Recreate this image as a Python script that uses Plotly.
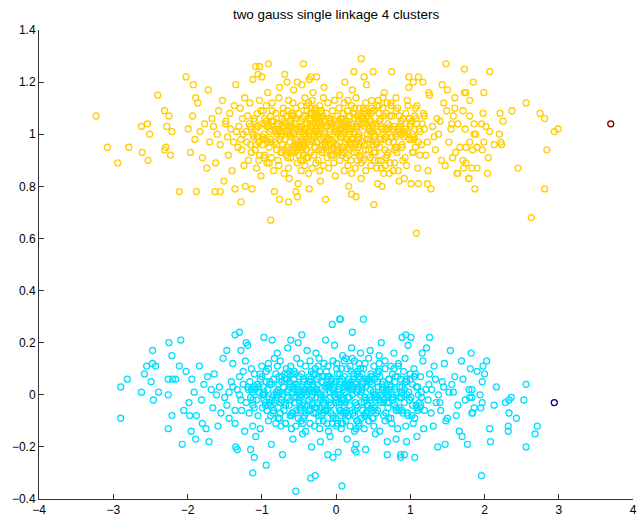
import plotly.graph_objects as go

# ---------------- data ----------------
title_text = "two gauss single linkage 4 clusters"

x_ticks = [-4, -3, -2, -1, 0, 1, 2, 3, 4]
x_tick_labels = ["\u22124", "\u22123", "\u22122", "\u22121", "0", "1", "2", "3", "4"]
y_ticks = [-0.4, -0.2, 0, 0.2, 0.4, 0.6, 0.8, 1.0, 1.2, 1.4]
y_tick_labels = ["\u22120.4", "\u22120.2", "0", "0.2", "0.4", "0.6", "0.8", "1", "1.2", "1.4"]

# cluster 3 (yellow, upper gaussian) - core
yellow_core_x = [
    -1.99,-1.96,-1.93,-1.90,-1.86,-1.83,-1.80,-1.77,-1.74,-1.72,
    -1.70,-1.67,-1.65,-1.62,-1.60,-1.58,-1.56,-1.53,-1.51,-1.49,
    -1.48,-1.46,-1.45,-1.43,-1.42,-1.40,-1.38,-1.37,-1.35,-1.34,
    -1.32,-1.31,-1.29,-1.28,-1.27,-1.26,-1.25,-1.24,-1.23,-1.22,
    -1.21,-1.20,-1.19,-1.18,-1.17,-1.16,-1.15,-1.14,-1.13,-1.12,
    -1.11,-1.10,-1.09,-1.08,-1.07,-1.06,-1.05,-1.04,-1.03,-1.01,
    -1.00,-0.99,-0.98,-0.97,-0.96,-0.96,-0.95,-0.94,-0.93,-0.92,
    -0.91,-0.90,-0.89,-0.88,-0.88,-0.87,-0.86,-0.85,-0.84,-0.83,
    -0.82,-0.82,-0.81,-0.80,-0.79,-0.79,-0.78,-0.77,-0.77,-0.76,
    -0.75,-0.74,-0.74,-0.73,-0.72,-0.72,-0.71,-0.70,-0.70,-0.69,
    -0.69,-0.68,-0.67,-0.67,-0.66,-0.66,-0.65,-0.64,-0.64,-0.63,
    -0.63,-0.62,-0.61,-0.61,-0.60,-0.60,-0.59,-0.58,-0.58,-0.57,
    -0.57,-0.56,-0.55,-0.55,-0.54,-0.54,-0.53,-0.52,-0.52,-0.51,
    -0.51,-0.50,-0.50,-0.49,-0.49,-0.48,-0.48,-0.47,-0.47,-0.46,
    -0.46,-0.45,-0.45,-0.44,-0.44,-0.43,-0.43,-0.42,-0.42,-0.41,
    -0.41,-0.40,-0.40,-0.39,-0.39,-0.38,-0.38,-0.37,-0.37,-0.36,
    -0.36,-0.35,-0.35,-0.34,-0.34,-0.33,-0.33,-0.32,-0.32,-0.31,
    -0.31,-0.30,-0.30,-0.29,-0.29,-0.28,-0.28,-0.27,-0.27,-0.26,
    -0.26,-0.25,-0.25,-0.24,-0.24,-0.23,-0.23,-0.22,-0.22,-0.21,
    -0.21,-0.20,-0.20,-0.19,-0.19,-0.18,-0.18,-0.17,-0.17,-0.16,
    -0.15,-0.15,-0.14,-0.13,-0.13,-0.12,-0.11,-0.11,-0.10,-0.09,
    -0.09,-0.08,-0.07,-0.07,-0.06,-0.05,-0.04,-0.03,-0.02,-0.01,
    0.00,0.01,0.01,0.02,0.03,0.03,0.04,0.05,0.05,0.06,
    0.07,0.07,0.08,0.08,0.09,0.10,0.10,0.11,0.11,0.12,
    0.12,0.13,0.13,0.14,0.14,0.15,0.15,0.16,0.16,0.17,
    0.17,0.18,0.18,0.19,0.19,0.20,0.20,0.21,0.21,0.22,
    0.22,0.23,0.23,0.24,0.24,0.25,0.26,0.26,0.27,0.28,
    0.28,0.29,0.30,0.30,0.31,0.32,0.32,0.33,0.34,0.34,
    0.35,0.36,0.36,0.37,0.38,0.38,0.39,0.40,0.40,0.41,
    0.42,0.42,0.43,0.44,0.45,0.45,0.46,0.47,0.48,0.48,
    0.49,0.50,0.51,0.51,0.52,0.53,0.54,0.55,0.55,0.56,
    0.57,0.58,0.59,0.60,0.60,0.61,0.62,0.63,0.64,0.65,
    0.66,0.67,0.68,0.69,0.70,0.71,0.72,0.73,0.74,0.75,
    0.76,0.77,0.78,0.79,0.80,0.81,0.82,0.83,0.84,0.85,
    0.87,0.88,0.89,0.90,0.91,0.93,0.94,0.95,0.96,0.98,
    0.99,1.00,1.02,1.03,1.05,1.06,1.07,1.09,1.10,1.12,
    1.13,1.15,1.16,1.18,1.19,1.21,1.23,1.24,1.26,1.28,
    1.30,1.32,1.34,1.36,1.38,1.40,1.42,1.45,1.47,1.50,
    1.52,1.55,1.58,1.61,1.64,1.67,1.71,1.75,1.80,1.86,
    -0.62,-0.35,-0.14,0.04,0.21,0.33,0.47,0.58,0.72,0.92,
    -0.88,-0.54,-0.27,-0.06,0.13,0.29,0.43,0.61,0.81,1.04,
    -1.05,-0.71,-0.44,-0.19,0.02,0.18,0.37,0.52,0.69,0.86,
    -0.79,-0.47,-0.23,-0.03,0.09,0.26,0.41,0.57,0.77,1.11,
    -0.58,-0.32,-0.10,0.06,0.23,0.39,0.53,0.66,0.97,1.25,
]
yellow_core_y = [
    1.02,0.93,1.07,0.98,1.12,1.01,0.91,1.04,0.87,1.17,
    0.97,1.06,1.03,0.89,1.00,1.09,0.96,1.13,0.82,1.04,
    1.05,0.99,0.92,1.08,1.02,0.86,0.97,1.11,1.19,1.01,
    0.95,1.03,1.10,0.98,0.94,1.06,1.00,0.88,1.14,0.80,
    1.01,0.97,1.07,0.90,1.04,1.12,0.96,0.93,1.02,1.21,
    0.99,1.05,0.94,1.02,0.87,1.08,1.03,0.97,1.13,0.84,
    1.04,0.96,1.09,1.00,0.92,1.06,0.98,1.11,0.89,1.16,
    1.03,0.95,1.01,1.07,0.98,0.91,1.12,1.05,0.86,0.78,
    0.97,1.02,1.08,0.94,1.00,1.04,0.90,1.14,0.88,1.18,
    1.01,0.99,0.93,1.06,1.03,0.96,1.10,1.05,0.85,1.23,
    0.98,1.04,1.07,0.92,1.01,0.95,1.09,0.87,1.13,0.83,
    1.02,0.97,1.05,0.91,0.99,1.08,1.03,0.94,1.12,1.17,
    1.00,1.04,0.93,1.06,0.98,1.10,0.96,0.89,1.02,0.81,
    0.96,1.01,1.08,0.95,1.03,0.90,1.05,1.11,0.86,1.19,
    1.03,0.98,1.06,0.92,1.00,1.07,0.97,1.14,0.88,1.02,
    0.99,1.02,0.94,1.09,1.04,0.91,0.97,1.12,0.85,0.79,
    1.01,0.96,1.05,0.93,1.03,1.08,0.98,0.87,1.13,1.16,
    1.04,0.99,0.92,1.07,1.00,0.95,1.10,1.02,0.89,1.22,
    0.97,1.03,1.06,0.90,1.01,1.05,0.94,1.11,0.86,0.82,
    1.02,0.98,1.09,0.93,1.04,0.96,1.07,0.88,1.14,1.18,
    1.00,1.05,0.95,1.08,0.99,0.91,1.03,1.12,0.87,1.01,
    0.98,1.02,1.06,0.92,1.04,1.09,0.97,0.89,1.13,0.84,
    1.03,0.96,1.01,1.07,0.94,1.00,1.10,0.90,1.15,1.02,
    0.99,1.04,0.93,1.06,1.02,0.95,1.08,0.86,1.12,1.20,
    1.01,0.97,1.05,0.91,1.03,1.09,0.98,1.13,0.88,0.80,
    1.04,1.00,0.94,1.07,0.96,1.02,0.90,1.11,0.85,1.17,
    0.98,1.03,1.08,0.93,1.01,1.06,0.97,0.87,1.14,1.03,
    1.02,0.99,0.95,1.05,1.00,0.92,1.10,1.04,0.89,0.83,
    0.97,1.04,1.06,0.90,1.03,0.96,1.08,1.12,0.86,1.19,
    1.00,0.98,1.07,0.94,1.02,1.05,0.91,0.88,1.13,1.01,
    1.03,0.96,0.93,1.09,0.99,1.04,0.97,1.11,0.87,0.81,
    1.01,1.05,0.95,1.06,0.98,0.90,1.02,1.14,0.85,1.16,
    0.99,1.02,1.08,0.92,1.04,0.97,1.07,0.89,1.12,1.24,
    1.02,0.97,1.03,0.94,1.00,1.09,0.93,1.10,0.86,0.82,
    1.04,1.00,0.96,1.06,1.01,0.91,1.08,0.88,1.13,1.18,
    0.98,1.03,1.05,0.93,0.99,1.07,0.95,1.11,0.87,1.02,
    1.01,0.96,1.04,1.08,1.02,0.92,0.97,0.86,1.15,0.79,
    1.03,0.99,0.94,1.06,1.00,1.05,0.90,1.12,0.88,1.17,
    0.97,1.02,1.07,0.93,1.04,0.95,1.09,0.89,1.13,1.00,
    1.00,1.04,0.96,1.05,0.98,0.91,1.08,1.11,0.85,0.83,
    1.02,0.98,1.06,0.94,1.03,1.07,0.92,0.87,1.14,1.20,
    0.99,1.01,0.95,1.08,1.04,0.97,1.10,0.90,1.12,1.03,
    1.03,0.97,1.05,0.92,1.00,0.96,1.07,1.13,0.86,0.81,
    1.01,1.04,0.94,1.06,0.98,1.09,0.93,0.88,1.11,1.16,
]
# cluster 3 (yellow) - extra points in the crowded centre
yellow_dense_x = [
    -1.15,-0.92,-0.71,-0.55,-0.38,-0.21,-0.05,0.12,0.31,0.48,
    0.66,0.83,1.02,1.19,-1.04,-0.84,-0.63,-0.46,-0.29,-0.13,
    0.03,0.19,0.37,0.55,0.74,0.91,1.09,-0.97,-0.77,-0.59,
    -0.42,-0.25,-0.08,0.07,0.24,0.42,0.61,0.79,0.97,-1.10,
    -0.88,-0.67,-0.50,-0.33,-0.17,0.00,0.16,0.34,0.52,0.70,
    0.88,1.05,-1.01,-0.80,-0.61,-0.44,-0.27,-0.10,0.05,0.22,
    0.40,0.58,0.76,0.94,1.13,-0.94,-0.74,-0.56,-0.39,-0.22,
    -0.06,0.10,0.28,0.46,0.64,0.82,1.00,-1.07,-0.86,-0.65,
    -0.48,-0.31,-0.15,0.02,0.18,0.36,0.54,0.72,0.90,1.08,
    -0.99,-0.78,-0.60,-0.43,-0.26,-0.09,0.08,0.25,0.43,0.62,
    0.80,0.98,-1.12,-0.90,-0.69,-0.52,-0.35,-0.19,-0.02,0.14,
    0.32,0.50,0.68,0.86,1.04,-0.96,-0.76,-0.57,-0.40,-0.23,
    -0.07,0.09,0.27,0.45,0.63,0.81,0.99,-1.03,-0.82,-0.62,
    -0.45,-0.28,-0.11,0.04,0.21,0.39,0.57,0.75,0.93,1.11,
    -0.93,-0.73,-0.54,-0.37,-0.20,-0.04,0.13,0.30,0.49,0.67,
    0.85,1.03,-1.08,-0.87,-0.66,-0.49,-0.32,-0.16,0.01,0.17,
    0.35,0.53,0.71,0.89,1.07,-0.98,-0.79,-0.58,-0.41,-0.24,
    -0.08,0.11,0.29,0.47,0.65,0.84,-0.70,-0.34,0.06,0.44,
]
yellow_dense_y = [
    1.03,0.97,1.08,0.95,1.01,1.06,0.92,1.04,0.99,1.10,
    0.94,1.02,0.98,1.07,0.90,1.05,1.00,0.96,1.09,1.03,
    0.93,1.01,1.06,0.97,1.11,0.99,1.04,0.91,1.02,1.07,
    0.96,1.00,1.05,0.94,1.08,0.98,1.03,0.89,1.01,1.06,
    0.97,1.04,0.92,1.10,0.99,1.02,0.95,1.07,1.00,0.93,
    1.05,0.98,1.09,0.96,1.03,0.90,1.01,1.06,0.97,1.04,
    0.94,1.08,0.99,1.02,0.92,1.05,1.00,0.96,1.11,1.03,
    0.98,1.06,0.93,1.01,1.07,0.95,1.04,0.99,1.09,0.91,
    1.02,0.97,1.05,0.94,1.00,1.08,0.96,1.03,0.90,1.06,
    0.99,1.01,0.93,1.07,0.97,1.04,0.92,1.10,0.98,1.02,
    0.95,1.06,1.00,0.89,1.03,0.97,1.08,0.94,1.01,1.05,
    0.96,1.09,0.99,1.02,0.93,1.04,0.98,1.07,0.91,1.00,
    1.05,0.95,1.03,0.97,1.10,0.99,1.06,0.92,1.01,1.04,
    0.94,1.08,0.98,1.02,0.96,1.05,0.90,1.07,1.00,0.97,
    1.03,0.93,1.06,0.99,1.09,0.95,1.02,0.98,1.04,0.91,
    1.07,1.00,0.96,1.05,0.94,1.01,1.08,0.97,1.03,0.92,
    1.06,0.99,1.02,0.95,1.10,0.98,1.04,0.93,1.00,1.07,
    0.96,1.03,0.90,1.05,0.98,1.01,0.94,1.06,0.99,1.02,
]
# cluster 3 (yellow) - sparse outer points, read one by one
yellow_edge_x = [
    -3.23,-3.08,-2.94,-2.79,-2.62,-2.54,-2.51,-2.61,-2.53,-2.40,
    -2.02,-1.92,-1.89,-2.31,-2.25,-2.28,-2.21,-2.31,-2.29,-2.23,
    -2.11,-1.88,-1.63,-1.56,-1.28,-0.88,-1.36,-1.13,-0.76,-0.64,
    -0.52,-0.54,-0.14,-1.08,-1.03,-0.91,-0.44,-1.05,-1.00,0.34,
    1.48,1.73,2.07,1.85,1.43,1.99,1.73,1.75,2.56,2.75,
    2.81,2.37,2.94,2.99,2.84,2.45,2.81,2.63,1.87,2.04,
    1.79,1.63,0.51,0.21,0.27,0.62,1.01,1.23,2.22,2.20,
    2.23,2.13,1.08,1.98,1.96,2.02,2.07,1.99,1.97,1.90,
    1.84,1.80,1.74,1.86,1.88,1.80,1.75,1.60,1.60,1.49,
    1.56,1.57,1.71,1.72,1.64,1.79,1.83,1.90,2.05,2.25,
    2.21,0.24,0.38,0.50,0.98,1.11,1.17,-0.34,-0.36,-0.66,
    -0.52,
]
yellow_edge_y = [
    1.07,0.95,0.89,0.95,1.03,1.04,1.00,0.93,0.90,1.15,
    1.22,1.19,1.14,1.09,1.07,1.03,1.01,0.94,0.95,0.92,
    0.78,0.78,0.78,0.78,0.74,0.67,0.79,0.79,0.75,0.74,
    0.76,0.78,0.75,1.26,1.26,1.27,1.27,1.23,1.22,1.29,
    1.27,1.25,1.24,1.20,1.19,1.16,1.16,1.16,1.12,1.08,
    1.06,1.09,1.01,1.02,0.94,0.87,0.79,0.68,0.79,0.85,
    0.83,0.85,0.73,0.77,0.76,0.80,0.81,0.81,0.97,1.00,
    0.96,0.96,0.62,1.08,1.04,1.03,1.01,0.97,0.94,0.95,
    0.94,1.07,1.02,1.04,1.00,0.97,0.95,1.14,1.10,1.09,
    1.04,0.91,0.90,0.87,0.85,0.83,0.87,0.87,0.91,1.05,
    1.08,1.24,1.22,1.24,1.22,1.22,1.20,1.22,1.21,1.20,
    1.20,
]

# cluster 2 (cyan, lower gaussian) - core
cyan_core_x = [
    -1.98,-1.94,-1.91,-1.88,-1.84,-1.81,-1.78,-1.75,-1.73,-1.71,
    -1.68,-1.66,-1.64,-1.61,-1.59,-1.57,-1.55,-1.52,-1.50,-1.47,
    -1.47,-1.44,-1.44,-1.41,-1.39,-1.39,-1.36,-1.36,-1.33,-1.33,
    -1.30,-1.30,-1.28,-1.27,-1.25,-1.25,-1.23,-1.22,-1.21,-1.19,
    -1.19,-1.17,-1.16,-1.15,-1.14,-1.12,-1.12,-1.10,-1.09,-1.08,
    -1.07,-1.06,-1.05,-1.04,-1.02,-1.02,-1.00,-0.99,-0.98,-0.97,
    -0.97,-0.95,-0.94,-0.93,-0.92,-0.91,-0.91,-0.89,-0.88,-0.87,
    -0.87,-0.86,-0.85,-0.84,-0.83,-0.83,-0.81,-0.81,-0.80,-0.79,
    -0.78,-0.78,-0.77,-0.76,-0.75,-0.75,-0.74,-0.73,-0.73,-0.72,
    -0.71,-0.71,-0.70,-0.69,-0.68,-0.68,-0.67,-0.66,-0.65,-0.65,
    -0.64,-0.63,-0.63,-0.62,-0.62,-0.61,-0.60,-0.59,-0.59,-0.58,
    -0.57,-0.57,-0.56,-0.56,-0.55,-0.54,-0.53,-0.53,-0.52,-0.51,
    -0.51,-0.50,-0.49,-0.49,-0.48,-0.48,-0.47,-0.46,-0.46,-0.45,
    -0.44,-0.44,-0.43,-0.43,-0.42,-0.41,-0.41,-0.40,-0.39,-0.39,
    -0.38,-0.38,-0.37,-0.36,-0.36,-0.35,-0.35,-0.34,-0.33,-0.33,
    -0.32,-0.32,-0.31,-0.30,-0.30,-0.29,-0.28,-0.28,-0.27,-0.27,
    -0.26,-0.25,-0.25,-0.24,-0.24,-0.23,-0.22,-0.22,-0.21,-0.21,
    -0.20,-0.19,-0.19,-0.18,-0.17,-0.17,-0.16,-0.16,-0.15,-0.14,
    -0.14,-0.13,-0.13,-0.12,-0.11,-0.11,-0.10,-0.10,-0.09,-0.08,
    -0.08,-0.07,-0.07,-0.06,-0.05,-0.05,-0.04,-0.04,-0.03,-0.02,
    -0.02,-0.01,-0.01,0.00,0.00,0.01,0.01,0.02,0.03,0.03,
    0.04,0.04,0.05,0.05,0.06,0.07,0.07,0.08,0.08,0.09,
    0.10,0.10,0.11,0.11,0.12,0.13,0.13,0.14,0.14,0.15,
    0.16,0.16,0.17,0.17,0.18,0.19,0.19,0.20,0.20,0.21,
    0.22,0.22,0.23,0.23,0.24,0.25,0.25,0.26,0.26,0.27,
    0.28,0.28,0.29,0.29,0.30,0.31,0.31,0.32,0.33,0.33,
    0.34,0.34,0.35,0.36,0.36,0.37,0.38,0.38,0.39,0.40,
    0.40,0.41,0.42,0.42,0.43,0.44,0.44,0.45,0.46,0.46,
    0.47,0.48,0.48,0.49,0.50,0.51,0.51,0.52,0.53,0.53,
    0.54,0.55,0.56,0.56,0.57,0.58,0.59,0.59,0.60,0.61,
    0.62,0.62,0.63,0.64,0.65,0.66,0.66,0.67,0.68,0.69,
    0.70,0.71,0.71,0.72,0.73,0.74,0.75,0.76,0.77,0.78,
    0.79,0.79,0.80,0.81,0.82,0.83,0.84,0.85,0.86,0.87,
    0.88,0.89,0.90,0.91,0.92,0.93,0.94,0.95,0.96,0.97,
    0.98,0.99,1.00,1.02,1.03,1.04,1.05,1.06,1.08,1.09,
    1.10,1.11,1.13,1.14,1.15,1.17,1.18,1.19,1.21,1.22,
    1.24,1.25,1.26,1.28,1.29,1.31,1.32,1.34,1.35,1.37,
    1.38,1.40,1.41,1.43,1.45,1.46,1.48,1.50,1.52,1.54,
    1.56,1.58,1.60,1.62,1.64,1.66,1.69,1.71,1.74,1.77,
    1.80,1.83,1.86,1.90,1.94,1.98,0.02,0.12,0.35,0.58,
    -0.55,-0.31,-0.12,0.06,0.18,0.27,0.39,0.47,0.63,0.81,
    -0.92,-0.66,-0.43,-0.23,-0.04,0.15,0.31,0.52,0.74,1.01,
    -0.78,-0.58,-0.35,-0.17,0.00,0.09,0.22,0.44,0.68,0.95,
    -1.12,-0.84,-0.48,-0.28,-0.09,0.11,0.29,0.50,0.71,1.16,
]
cyan_core_y = [
    -0.03,0.06,0.01,-0.08,0.11,-0.02,0.04,-0.13,0.07,-0.18,
    0.02,-0.05,0.08,0.00,-0.12,0.03,-0.07,0.14,-0.01,0.17,
    -0.04,0.01,-0.09,0.05,0.03,0.12,-0.06,-0.11,0.02,-0.21,
    0.00,0.07,-0.02,-0.06,0.04,0.09,-0.14,0.13,-0.03,0.19,
    0.03,-0.07,0.05,-0.01,0.10,-0.04,-0.12,0.08,0.02,-0.16,
    -0.02,0.04,-0.08,0.01,0.06,-0.13,0.11,-0.05,0.03,0.22,
    0.01,-0.03,0.09,-0.06,0.02,-0.10,0.12,0.05,-0.04,-0.19,
    0.04,-0.01,-0.07,0.06,-0.03,0.14,-0.11,0.08,0.00,0.16,
    -0.05,0.02,0.07,-0.09,0.01,0.13,-0.12,-0.02,0.05,-0.23,
    0.00,0.03,-0.06,0.08,-0.04,-0.11,0.10,0.06,-0.01,0.18,
    0.02,-0.04,0.05,-0.08,0.03,0.11,-0.13,-0.07,0.01,-0.17,
    -0.01,0.06,-0.03,0.09,0.04,-0.12,0.14,-0.06,0.02,0.20,
    0.03,-0.02,0.07,-0.05,0.00,0.12,-0.10,0.08,-0.04,-0.15,
    -0.03,0.01,-0.09,0.05,0.02,-0.14,0.11,-0.07,0.04,0.17,
    0.01,0.04,-0.06,0.07,-0.02,0.13,-0.11,0.06,-0.01,-0.20,
    -0.04,0.00,0.08,-0.07,0.03,-0.12,0.10,-0.05,0.02,0.16,
    0.02,-0.03,0.06,-0.08,0.01,0.14,-0.13,0.09,-0.02,-0.18,
    0.00,0.05,-0.05,0.07,-0.01,-0.10,0.12,-0.06,0.03,0.21,
    -0.02,0.03,0.09,-0.06,0.04,0.11,-0.14,0.07,-0.03,-0.16,
    0.01,-0.04,-0.07,0.06,0.02,-0.11,0.13,-0.08,0.00,0.19,
    0.04,-0.01,0.05,-0.09,-0.03,0.12,-0.12,0.08,0.01,-0.22,
    -0.03,0.02,-0.06,0.08,0.00,-0.13,0.10,0.06,-0.02,0.15,
    0.03,-0.02,0.07,-0.05,0.01,0.14,-0.10,-0.07,0.04,-0.17,
    -0.01,0.04,-0.08,0.06,-0.04,-0.12,0.11,0.05,0.02,0.18,
    0.02,0.00,0.06,-0.07,0.03,0.13,-0.14,-0.06,-0.03,-0.19,
    -0.04,0.01,-0.05,0.09,0.02,-0.11,0.12,0.07,0.00,0.16,
    0.01,-0.03,0.08,-0.06,0.04,0.10,-0.13,-0.08,-0.01,-0.21,
    0.03,-0.02,-0.07,0.05,-0.04,0.14,-0.10,0.06,0.02,0.17,
    -0.02,0.04,0.07,-0.09,0.01,-0.12,0.11,-0.05,0.00,-0.15,
    0.00,-0.01,-0.06,0.08,0.03,0.12,-0.14,0.07,-0.03,0.20,
    0.04,0.02,0.05,-0.08,-0.02,-0.10,0.13,-0.07,0.01,-0.18,
    -0.03,0.00,-0.09,0.06,0.04,0.11,-0.11,0.08,-0.01,0.16,
    0.02,-0.04,0.07,-0.05,0.01,-0.13,0.12,-0.06,0.03,-0.24,
    -0.01,0.03,-0.07,0.09,-0.03,0.14,-0.12,0.05,0.00,0.19,
    0.01,-0.02,0.06,-0.08,0.04,-0.11,0.10,0.07,-0.04,-0.16,
    0.03,0.00,-0.05,0.07,-0.01,0.13,-0.13,-0.06,0.02,0.18,
    -0.02,0.04,0.08,-0.07,0.02,-0.12,0.11,0.06,-0.03,-0.20,
    0.00,-0.03,-0.06,0.05,0.03,0.12,-0.10,-0.09,0.01,0.17,
    0.04,0.01,0.07,-0.08,-0.04,-0.14,0.13,0.06,-0.02,-0.19,
    -0.01,0.02,-0.05,0.09,0.00,0.11,-0.11,-0.07,0.03,0.15,
    0.02,-0.03,0.06,-0.06,0.04,-0.13,0.12,0.08,-0.01,-0.17,
    -0.04,0.01,-0.08,0.07,0.02,0.10,-0.12,-0.05,0.03,0.22,
    0.01,0.03,0.05,-0.07,-0.02,-0.11,0.14,0.06,0.00,-0.18,
    -0.02,0.00,-0.06,0.08,0.04,0.13,-0.10,-0.09,0.02,0.16,
]
# cluster 2 (cyan) - extra points in the crowded centre
cyan_dense_x = [
    -1.18,-0.95,-0.73,-0.53,-0.36,-0.19,-0.02,0.14,0.33,0.51,
    0.69,0.87,1.06,-1.06,-0.86,-0.65,-0.47,-0.30,-0.12,0.05,
    0.22,0.40,0.58,0.77,0.95,1.14,-0.99,-0.79,-0.60,-0.43,
    -0.26,-0.09,0.08,0.26,0.44,0.63,0.81,1.00,-1.12,-0.90,
    -0.69,-0.51,-0.34,-0.16,0.01,0.18,0.36,0.54,0.73,0.91,
    1.10,-1.02,-0.82,-0.62,-0.45,-0.28,-0.11,0.04,0.21,0.39,
    0.57,0.75,0.93,1.12,-0.96,-0.75,-0.57,-0.40,-0.23,-0.06,
    0.11,0.29,0.47,0.65,0.84,1.03,-1.09,-0.88,-0.67,-0.49,
    -0.32,-0.14,0.03,0.20,0.38,0.56,0.74,0.92,1.09,-1.00,
    -0.80,-0.61,-0.44,-0.27,-0.10,0.07,0.24,0.42,0.61,0.79,
    0.97,-1.14,-0.91,-0.70,-0.52,-0.35,-0.18,-0.01,0.15,0.34,
    0.52,0.70,0.88,1.07,-0.97,-0.77,-0.58,-0.41,-0.24,-0.07,
    0.10,0.28,0.46,0.64,0.83,1.01,-1.04,-0.84,-0.63,-0.46,
    -0.29,-0.13,0.06,0.23,0.41,0.59,0.78,0.96,1.15,-0.94,
    -0.74,-0.55,-0.38,-0.21,-0.04,0.12,0.31,0.50,0.68,0.86,
    1.05,-1.10,-0.89,-0.68,-0.50,-0.33,-0.17,0.00,0.16,0.35,
    0.53,0.71,0.89,1.08,-0.98,-0.78,-0.59,-0.42,-0.25,-0.08,
    0.09,0.27,0.45,0.66,0.85,-0.37,0.13,0.48,-0.15,0.25,
]
cyan_dense_y = [
    0.02,-0.04,0.07,-0.01,0.05,-0.08,0.03,-0.06,0.10,0.00,
    -0.03,0.06,-0.09,0.04,-0.02,0.08,-0.05,0.01,-0.11,0.05,
    0.03,-0.07,0.09,-0.02,0.06,-0.04,0.00,0.11,-0.08,0.02,
    -0.05,0.07,-0.01,0.04,-0.10,0.03,-0.06,0.08,0.01,-0.03,
    0.06,-0.09,0.02,-0.04,0.10,-0.01,0.05,-0.07,0.03,0.00,
    -0.06,0.08,-0.02,0.04,-0.11,0.01,0.07,-0.05,0.03,-0.08,
    0.09,-0.01,0.05,-0.03,0.00,-0.07,0.06,0.02,-0.10,0.04,
    -0.02,0.08,-0.05,0.01,0.11,-0.04,0.03,-0.08,0.06,-0.01,
    0.04,-0.06,0.00,0.09,-0.03,0.05,-0.09,0.02,-0.05,0.07,
    0.01,-0.02,0.06,-0.07,0.03,-0.11,0.08,-0.04,0.00,0.05,
    -0.08,0.02,0.10,-0.03,0.04,-0.06,0.07,-0.01,0.03,-0.09,
    0.06,-0.05,0.01,0.08,-0.02,0.04,-0.07,0.00,0.11,-0.04,
    0.02,-0.10,0.05,-0.03,0.07,-0.01,0.03,-0.06,0.09,0.00,
    -0.05,0.04,-0.08,0.02,0.06,-0.02,0.10,-0.07,0.01,0.05,
    -0.03,0.08,-0.04,0.00,-0.09,0.03,0.06,-0.06,0.02,-0.01,
    0.07,-0.05,0.04,-0.11,0.01,0.09,-0.03,0.05,-0.08,0.02,
    -0.02,0.06,-0.06,0.03,0.00,-0.09,0.08,-0.04,0.04,0.01,
    -0.07,0.05,-0.01,0.10,-0.05,0.02,-0.03,0.07,0.00,-0.08,
]
# cluster 2 (cyan) - sparse outer points
cyan_edge_x = [
    -2.90,-2.90,-2.81,-2.62,-2.58,-2.55,-2.47,-2.43,-2.47,-2.49,
    -2.39,-2.46,-2.25,-2.09,-2.21,-2.26,-2.20,-2.16,-2.26,-2.11,
    -2.02,-2.21,-2.26,-2.07,-2.05,-1.97,-1.95,-1.89,-1.80,-0.54,
    -0.34,-0.28,-1.12,-0.94,-1.10,-1.15,-1.35,-1.36,-1.30,-0.05,
    0.05,0.06,0.37,0.08,1.96,2.71,2.68,2.56,2.56,2.53,
    2.43,2.33,2.36,2.33,2.28,2.32,2.32,2.16,2.13,2.08,
    2.07,1.97,2.00,2.03,1.97,1.95,1.82,1.81,1.79,1.83,
    1.83,1.84,-1.21,-1.28,-0.61,-0.46,-0.86,0.22,0.89,0.94,
    1.26,0.87,0.92,1.06,0.69,-0.04,-0.11,0.25,0.27,1.47,
    1.70,
]
cyan_edge_y = [
    -0.09,0.03,0.06,0.01,0.08,0.11,0.12,0.11,0.17,0.05,
    0.01,-0.02,0.20,0.21,0.15,0.06,0.06,0.06,0.00,0.11,
    0.09,-0.08,-0.13,-0.19,-0.06,-0.08,-0.14,-0.17,-0.11,-0.37,
    -0.32,-0.31,-0.30,-0.27,-0.24,-0.21,-0.20,0.23,0.24,0.27,
    0.29,0.29,0.29,-0.35,-0.31,-0.12,-0.15,-0.20,0.04,-0.02,
    -0.09,-0.07,-0.01,-0.02,-0.03,-0.12,-0.14,0.03,-0.04,-0.18,
    -0.13,0.05,0.08,0.13,-0.03,-0.05,0.16,0.10,0.02,-0.01,
    -0.07,-0.07,0.20,0.17,0.21,0.23,0.21,0.24,0.22,0.23,
    0.22,-0.23,-0.23,-0.24,-0.23,-0.24,-0.23,-0.21,-0.22,-0.19,
    -0.16,
]

# cluster 1 (dark blue) and cluster 4 (dark red): single points
blue_x = [2.94]
blue_y = [-0.03]
red_x = [3.70]
red_y = [1.04]

cluster_colors = ["rgb(0,0,143)", "rgb(0,223,255)", "rgb(255,207,0)", "rgb(128,0,0)"]

# ---------------- figure ----------------
def ring(x, y, color):
    return go.Scatter(
        x=x, y=y, mode="markers", showlegend=False, hoverinfo="skip",
        marker=dict(symbol="circle-open", size=6, color=color,
                    line=dict(width=1.3, color=color)),
    )

fig = go.Figure()
fig.add_trace(ring(blue_x, blue_y, cluster_colors[0]))
fig.add_trace(ring(cyan_core_x + cyan_dense_x + cyan_edge_x,
                   cyan_core_y + cyan_dense_y + cyan_edge_y, cluster_colors[1]))
fig.add_trace(ring(yellow_core_x + yellow_dense_x + yellow_edge_x,
                   yellow_core_y + yellow_dense_y + yellow_edge_y, cluster_colors[2]))
fig.add_trace(ring(red_x, red_y, cluster_colors[3]))

font_family = "Liberation Sans, Arial, sans-serif"
axis_font = dict(family=font_family, size=12, color="#000000")
axis_common = dict(ticks="inside", ticklen=5, tickwidth=1, tickcolor="#333333",
                   showline=True, linecolor="#333333", linewidth=1, mirror=False,
                   showgrid=False, zeroline=False, tickfont=axis_font, automargin=False)
fig.update_layout(
    width=640, height=518,
    margin=dict(l=39, r=7, t=30, b=19, autoexpand=False),
    paper_bgcolor="white", plot_bgcolor="white",
    title=dict(text=title_text, x=0.5, xref="paper", xanchor="center",
               y=1 - 14 / 518, yref="container", yanchor="middle",
               font=dict(family=font_family, size=13.4, color="#000000")),
    xaxis=dict(range=[-4, 4], tickvals=x_ticks, ticktext=x_tick_labels, **axis_common),
    yaxis=dict(range=[-0.4, 1.4], tickvals=y_ticks, ticktext=y_tick_labels, **axis_common),
)

fig.write_html("out.html")
